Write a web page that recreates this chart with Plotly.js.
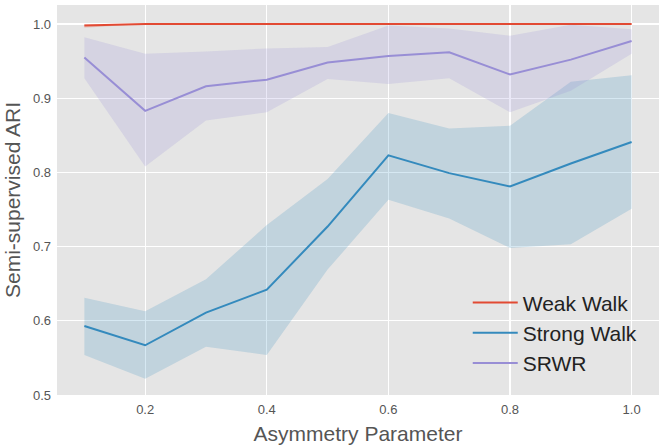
<!DOCTYPE html>
<html>
<head>
<meta charset="utf-8">
<script src="https://cdn.plot.ly/plotly-3.0.1.min.js"></script>
<style>
  html, body { margin: 0; padding: 0; background: #fff; }
  #graph { width: 665px; height: 446px; }
</style>
</head>
<body>
<div id="graph"></div>
<script>
// asymmetry parameter values
var asym = [0.1, 0.2, 0.3, 0.4, 0.5, 0.6, 0.7, 0.8, 0.9, 1.0];

// mean ARI and band limits
var weakMean  = [0.998, 1.0, 1.0, 1.0, 1.0, 1.0, 1.0, 1.0, 1.0, 1.0];
var weakLow   = [0.995, 1.0, 1.0, 1.0, 1.0, 1.0, 1.0, 1.0, 1.0, 1.0];
var weakHigh  = [1.0, 1.0, 1.0, 1.0, 1.0, 1.0, 1.0, 1.0, 1.0, 1.0];

var strongMean = [0.593, 0.567, 0.611, 0.642, 0.727, 0.823, 0.799, 0.781, 0.812, 0.841];
var strongLow  = [0.554, 0.522, 0.565, 0.554, 0.669, 0.763, 0.738, 0.698, 0.703, 0.751];
var strongHigh = [0.631, 0.613, 0.656, 0.729, 0.791, 0.880, 0.859, 0.863, 0.922, 0.931];

var srwrMean = [0.955, 0.883, 0.916, 0.925, 0.948, 0.957, 0.962, 0.932, 0.952, 0.977];
var srwrLow  = [0.927, 0.808, 0.870, 0.881, 0.926, 0.919, 0.927, 0.881, 0.910, 0.960];
var srwrHigh = [0.982, 0.960, 0.963, 0.967, 0.969, 0.998, 0.994, 0.984, 0.999, 0.993];

var names  = ['Weak Walk', 'Strong Walk', 'SRWR'];
var colors = ['#E24A33', '#348ABD', '#988ED5'];
var fills  = ['rgba(226,74,51,0.2)', 'rgba(52,138,189,0.2)', 'rgba(152,142,213,0.2)'];
var means  = [weakMean, strongMean, srwrMean];
var lows   = [weakLow, strongLow, srwrLow];
var highs  = [weakHigh, strongHigh, srwrHigh];

var data = [];
for (var i = 0; i < names.length; i++) {
  // shaded band as a closed polygon
  data.push({
    type: 'scatter',
    x: asym.concat(asym.slice().reverse()),
    y: highs[i].concat(lows[i].slice().reverse()),
    fill: 'toself',
    fillcolor: fills[i],
    line: { width: 0, color: 'rgba(0,0,0,0)' },
    mode: 'lines',
    hoverinfo: 'skip',
    showlegend: false
  });
  data.push({
    type: 'scatter',
    x: asym,
    y: means[i],
    mode: 'lines',
    name: names[i],
    line: { color: colors[i], width: 2 }
  });
}

var font = 'Liberation Sans, Arial, sans-serif';

var layout = {
  width: 665,
  height: 446,
  margin: { l: 57, r: 6, t: 5, b: 51 },
  paper_bgcolor: '#ffffff',
  plot_bgcolor: '#E5E5E5',
  font: { family: font, color: '#555555' },
  xaxis: {
    range: [0.055, 1.045],
    tickvals: [0.2, 0.4, 0.6, 0.8, 1.0],
    ticktext: ['0.2', '0.4', '0.6', '0.8', '1.0'],
    showgrid: true,
    gridcolor: '#ffffff',
    gridwidth: 1.3,
    zeroline: false,
    ticks: '',
    ticklabelstandoff: 5,
    tickfont: { size: 13, color: '#555555' },
    title: { text: 'Asymmetry Parameter', font: { size: 21, color: '#555555' }, standoff: 10 }
  },
  yaxis: {
    range: [0.5, 1.0256],
    tickvals: [0.5, 0.6, 0.7, 0.8, 0.9, 1.0],
    ticktext: ['0.5', '0.6', '0.7', '0.8', '0.9', '1.0'],
    showgrid: true,
    gridcolor: '#ffffff',
    gridwidth: 1.3,
    zeroline: false,
    ticks: '',
    ticklabelstandoff: 5,
    tickfont: { size: 13, color: '#555555' },
    title: { text: 'Semi-supervised ARI', font: { size: 21, color: '#555555' }, standoff: 6 }
  },
  legend: {
    x: 0.973,
    y: 0.03,
    xanchor: 'right',
    yanchor: 'bottom',
    bgcolor: 'rgba(0,0,0,0)',
    itemwidth: 45,
    font: { size: 21, color: '#222222', family: font },
    tracegroupgap: 0
  },
  showlegend: true
};

Plotly.newPlot('graph', data, layout, { displayModeBar: false, staticPlot: true });
</script>
</body>
</html>
